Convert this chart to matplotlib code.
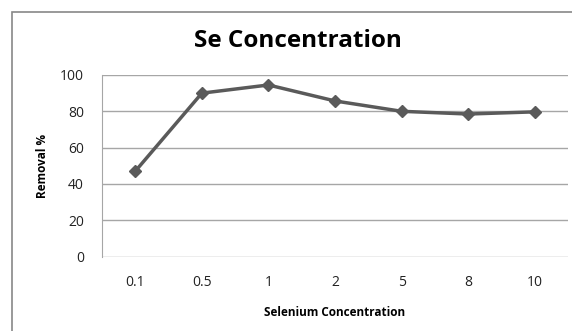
import matplotlib.pyplot as plt
from matplotlib.patches import Rectangle

# data
concentration = ['0.1', '0.5', '1', '2', '5', '8', '10']
removal = [47, 90, 94.5, 85.7, 80, 78.5, 79.7]

W, H = 572, 331
fig = plt.figure(figsize=(W / 100, H / 100), dpi=100)
plt.rcParams['font.family'] = ['Open Sans', 'DejaVu Sans']

# chart frame (only left/top edges visible in the crop)
fig.patches.append(Rectangle((11.5 / W, -0.5), 2.0, (H - 11.5) / H + 0.5,
                             transform=fig.transFigure, fill=False,
                             edgecolor='#888888', linewidth=1.2))

ax = fig.add_axes([102 / W, (H - 256.5) / H, 466 / W, 181.5 / H])
x = range(len(concentration))
ax.plot(x, removal, color='#5a5a5a', linewidth=2.5, marker='D', markersize=6.5)

ax.set_xlim(-0.5, len(concentration) - 0.5)
ax.set_ylim(0, 100)
ax.set_yticks(range(0, 101, 20))
ax.set_xticks(list(x))
ax.set_xticklabels(concentration)
ax.grid(axis='y', color='#a6a6a6', linewidth=1)
ax.set_axisbelow(True)
for s in ['top', 'right', 'bottom']:
    ax.spines[s].set_visible(False)
ax.spines['left'].set_color('#a6a6a6')
ax.tick_params(length=0, labelsize=10, colors='#222222')
ax.tick_params(axis='y', pad=13)
ax.tick_params(axis='x', pad=13)

fig.text(298 / W, 1 - 41 / H, 'Se Concentration', fontsize=17.5,
         fontweight='bold', ha='center', va='center')
ax.set_xlabel('Selenium Concentration', fontsize=8.5, fontweight='bold', labelpad=12)
ax.set_ylabel('Removal %', fontsize=8.5, fontweight='bold', labelpad=8)

fig.savefig('out.png', dpi=100)
